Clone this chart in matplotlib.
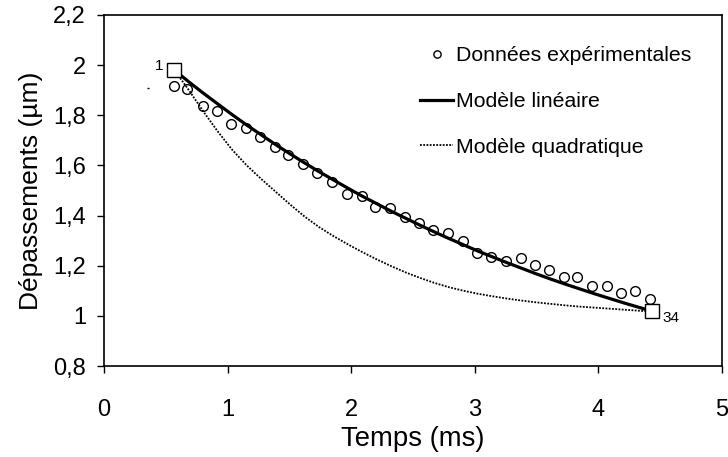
import matplotlib
matplotlib.use("Agg")
import matplotlib.pyplot as plt

plt.rcParams['font.family'] = ['Liberation Sans', 'DejaVu Sans']

# Experimental data (34 points)
t_data = [0.566, 0.674, 0.798, 0.911, 1.027, 1.146, 1.262, 1.383, 1.491, 1.613,
          1.726, 1.841, 1.963, 2.085, 2.193, 2.314, 2.435, 2.551, 2.665, 2.781,
          2.902, 3.020, 3.128, 3.250, 3.371, 3.487, 3.603, 3.722, 3.830, 3.951,
          4.067, 4.180, 4.296, 4.417]
y_data = [1.917, 1.905, 1.838, 1.818, 1.765, 1.748, 1.715, 1.672, 1.640, 1.605,
          1.568, 1.533, 1.486, 1.480, 1.434, 1.429, 1.393, 1.369, 1.342, 1.329,
          1.299, 1.250, 1.236, 1.220, 1.230, 1.203, 1.183, 1.156, 1.156, 1.119,
          1.120, 1.092, 1.100, 1.067]

# Model curves (values read at the same instants)
t_model = [0.570, 0.687, 0.804, 0.921, 1.038, 1.155, 1.272, 1.389, 1.506, 1.623,
           1.740, 1.857, 1.974, 2.091, 2.208, 2.325, 2.442, 2.559, 2.676, 2.793,
           2.910, 3.027, 3.144, 3.261, 3.378, 3.495, 3.612, 3.729, 3.846, 3.963,
           4.080, 4.197, 4.314, 4.431]
y_lin = [1.980, 1.933, 1.888, 1.845, 1.802, 1.761, 1.722, 1.683, 1.646, 1.610,
         1.575, 1.542, 1.509, 1.477, 1.447, 1.417, 1.389, 1.361, 1.334, 1.308,
         1.283, 1.258, 1.235, 1.212, 1.190, 1.168, 1.147, 1.127, 1.108, 1.089,
         1.071, 1.053, 1.036, 1.019]
y_quad = [1.980, 1.900, 1.815, 1.735, 1.662, 1.600, 1.546, 1.495, 1.444, 1.396,
          1.354, 1.318, 1.285, 1.254, 1.225, 1.198, 1.173, 1.151, 1.131, 1.114,
          1.100, 1.088, 1.078, 1.069, 1.061, 1.054, 1.048, 1.042, 1.037, 1.033,
          1.029, 1.025, 1.021, 1.017]

# End markers
end_t = [0.570, 4.431]
end_y = [1.980, 1.019]
end_labels = ["1", "34"]

# stray mark
stray_t = [0.359]
stray_y = [1.908]

x_ticks = [0, 1, 2, 3, 4, 5]
y_ticks = [0.8, 1.0, 1.2, 1.4, 1.6, 1.8, 2.0, 2.2]
y_ticklabels = ["0,8", "1", "1,2", "1,4", "1,6", "1,8", "2", "2,2"]

fig = plt.figure(figsize=(7.28, 4.57), dpi=100)
ax = fig.add_axes([104/728, 1 - 366/457, (722-104)/728, (366-15)/457])

ax.plot(t_model, y_quad, color='black', lw=1.3, ls=(0, (1, 0.8)), label='Modèle quadratique', zorder=2)
ax.plot(t_model, y_lin, color='black', lw=2.3, ls='-', label='Modèle linéaire', zorder=3)
ax.plot(t_data, y_data, ls='none', marker='o', ms=7, mfc='none', mec='black', mew=1.0,
        label='Données expérimentales', zorder=4)
ax.plot(end_t, end_y, ls='none', marker='s', ms=10, mfc='white', mec='black', mew=1.0, zorder=5)
ax.plot(stray_t, stray_y, ls='none', marker='_', ms=2, mec='black', mew=1.0)

ax.annotate(end_labels[0], (end_t[0], end_y[0]), xytext=(-14, 3), textcoords='offset points',
            fontsize=11, ha='left', va='center')
ax.annotate(end_labels[1], (end_t[1], end_y[1]), xytext=(8, -5), textcoords='offset points',
            fontsize=11, ha='left', va='center')

ax.set_xlim(0, 5)
ax.set_ylim(0.8, 2.2)
ax.set_xticks(x_ticks)
ax.set_xticklabels([str(v) for v in x_ticks])
ax.set_yticks(y_ticks)
ax.set_yticklabels(y_ticklabels)
ax.tick_params(direction='out', length=5, width=1, labelsize=17, pad=8)
ax.tick_params(axis='x', pad=19)
for s in ax.spines.values():
    s.set_linewidth(1.2)

ax.set_xlabel('Temps (ms)', fontsize=19.8, labelpad=3)
ax.set_ylabel('Dépassements (µm)', fontsize=19, labelpad=7)

h, l = ax.get_legend_handles_labels()
order = [2, 1, 0]
leg = ax.legend([h[i] for i in order], [l[i] for i in order], loc='upper right',
                bbox_to_anchor=(0.982, 0.965), frameon=False, fontsize=15.3,
                handlelength=1.55, handletextpad=0.15, labelspacing=1.25, markerscale=0.75)

fig.savefig('out.png', dpi=100)
